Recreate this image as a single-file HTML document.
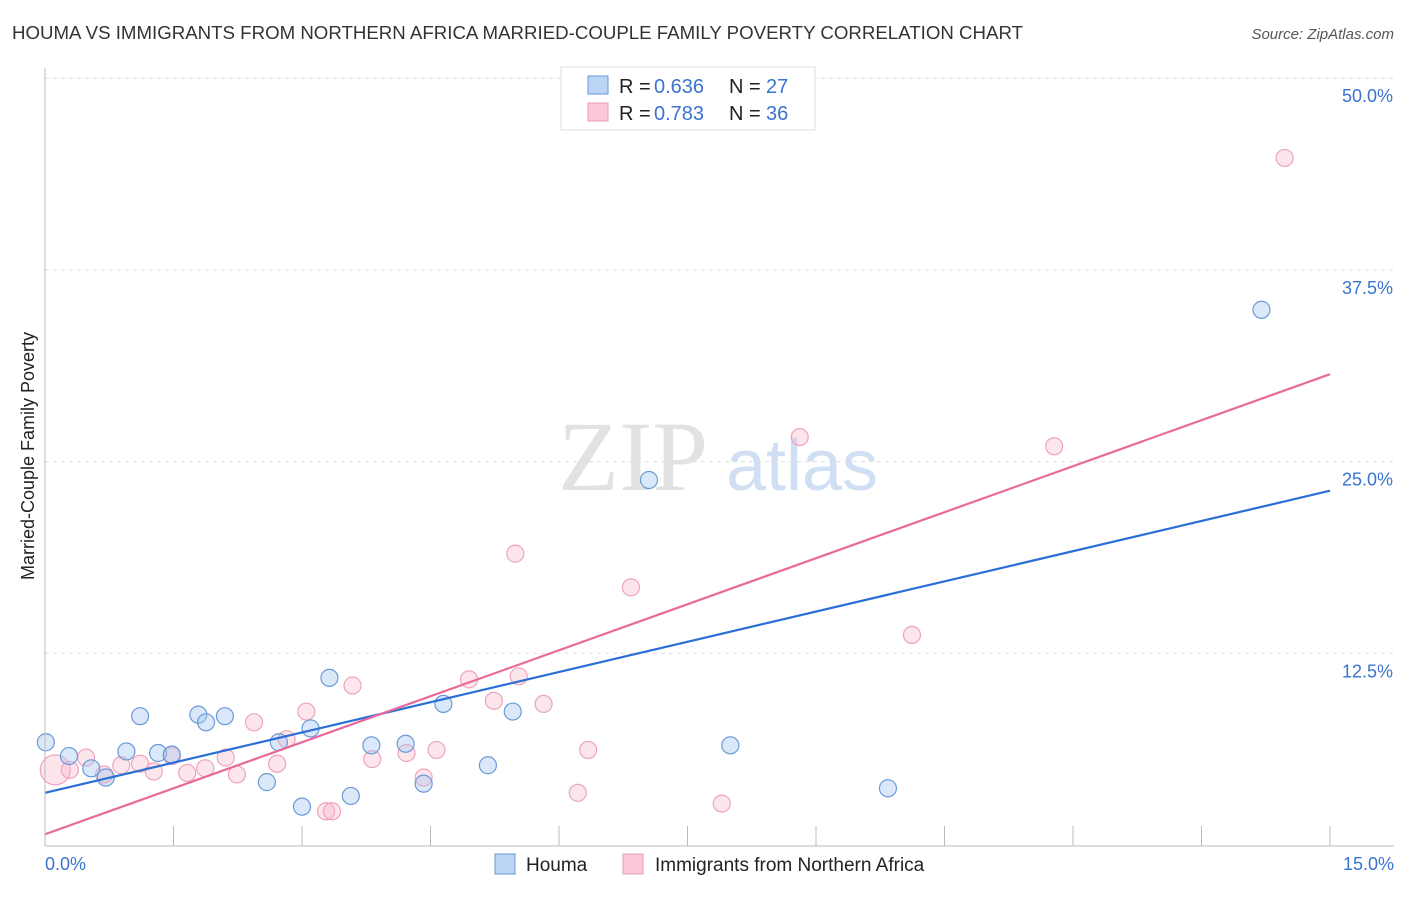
<!DOCTYPE html>
<html><head><meta charset="utf-8"><style>
body{margin:0;background:#fff;font-family:"Liberation Sans",sans-serif;}
</style></head><body>
<svg id="chart" width="1406" height="892" xmlns="http://www.w3.org/2000/svg">
<text x="12" y="39" font-size="18" fill="#333" textLength="1011" lengthAdjust="spacingAndGlyphs">HOUMA VS IMMIGRANTS FROM NORTHERN AFRICA MARRIED-COUPLE FAMILY POVERTY CORRELATION CHART</text>
<text x="1394" y="39" font-size="15" fill="#555" font-style="italic" text-anchor="end">Source: ZipAtlas.com</text>
<text x="633" y="490" font-size="100" fill="#e2e2e2" font-family="Liberation Serif,serif" text-anchor="middle">ZIP</text>
<text x="802" y="490" font-size="72" fill="#d0dff3" text-anchor="middle">atlas</text>
<text transform="translate(34,456) rotate(-90)" font-size="18" fill="#222" text-anchor="middle">Married-Couple Family Poverty</text>
<g id="grid"></g><g id="marks"></g><g id="lines"></g>
<line x1="45" y1="68" x2="45" y2="846" stroke="#bbb"/>
<line x1="45" y1="846" x2="1394" y2="846" stroke="#bbb"/>
<text x="45" y="870" font-size="18" fill="#3a74d0">0.0%</text>
<text x="1394" y="870" font-size="18" fill="#3a74d0" text-anchor="end">15.0%</text>
<g font-size="20">
<rect x="561" y="67" width="254" height="63" fill="#fff" stroke="#ddd"/>
<rect x="588" y="76" width="20" height="18" fill="#bcd4f5" stroke="#6a9ad8"/>
<rect x="588" y="103" width="20" height="18" fill="#fbc8d8" stroke="#e89ab4"/>
<text x="619" y="93" fill="#222">R =</text><text x="654" y="93" fill="#3a74d0">0.636</text>
<text x="729" y="93" fill="#222">N =</text><text x="766" y="93" fill="#3a74d0">27</text>
<text x="619" y="120" fill="#222">R =</text><text x="654" y="120" fill="#3a74d0">0.783</text>
<text x="729" y="120" fill="#222">N =</text><text x="766" y="120" fill="#3a74d0">36</text>
</g>
<g>
<rect x="495" y="854" width="20" height="20" fill="#bcd4f5" stroke="#6a9ad8"/>
<text x="526" y="871" font-size="19" fill="#222">Houma</text>
<rect x="623" y="854" width="20" height="20" fill="#fbc8d8" stroke="#e89ab4"/>
<text x="655" y="871" font-size="19" fill="#222">Immigrants from Northern Africa</text>
</g>
</svg>
<script>
const yTicks=[12.5,25,37.5,50];
const yTickLabels=["12.5%","25.0%","37.5%","50.0%"];
const houmaX=[0.01,0.28,0.54,0.71,0.95,1.11,1.32,1.48,1.79,1.88,2.10,2.59,2.73,3.0,3.10,3.32,3.57,3.81,4.21,4.42,4.65,5.17,5.46,7.05,8.0,9.84,14.2];
const houmaY=[6.7,5.8,5.0,4.4,6.1,8.4,6.0,5.9,8.5,8.0,8.4,4.1,6.7,2.5,7.6,10.9,3.2,6.5,6.6,4.0,9.2,5.2,8.7,23.8,6.5,3.7,34.9];
const immX=[0.12,0.29,0.48,0.69,0.89,1.11,1.27,1.48,1.66,1.87,2.11,2.24,2.44,2.71,2.82,3.05,3.28,3.35,3.59,3.82,4.22,4.42,4.57,4.95,5.24,5.49,5.53,5.82,6.22,6.34,6.84,7.90,8.81,10.12,11.78,14.47];
const immY=[4.9,4.9,5.7,4.6,5.2,5.3,4.8,5.8,4.7,5.0,5.7,4.6,8.0,5.3,6.9,8.7,2.2,2.2,10.4,5.6,6.0,4.4,6.2,10.8,9.4,19.0,11.0,9.2,3.4,6.2,16.8,2.7,26.6,13.7,26.0,44.8];
const houmaTrend=[3.4,23.1];
const immTrend=[0.7,30.7];
const NS="http://www.w3.org/2000/svg";
const sx=v=>45+v*1285/15;
const sy=v=>845-v*191.7/12.5;
function mk(tag,attrs,parent){const e=document.createElementNS(NS,tag);for(const k in attrs)e.setAttribute(k,attrs[k]);document.getElementById(parent).appendChild(e);return e;}
yTicks.forEach((t,i)=>{
  const l=mk('line',{x1:45,x2:1394,y1:sy(t),y2:sy(t),stroke:'#ddd','stroke-dasharray':'4,4'},'grid');
  
  
  const tx=mk('text',{x:1393,y:sy(t)+24,'font-size':18,fill:'#3a74d0','text-anchor':'end'},'grid');
  tx.textContent=yTickLabels[i];
  
  
});
for(let i=1;i<=10;i++){
  const l=mk('line',{x1:sx(i*1.5),x2:sx(i*1.5),y1:826,y2:846,stroke:'#bbb'},'grid');
  
  
}
immX.forEach((x,i)=>{
  const c=mk('circle',{cx:sx(x),cy:sy(immY[i]),r:i===0?15:8.5,fill:'rgba(248,180,200,0.35)',stroke:'#eda4bc','stroke-width':1.2},'marks');
  
  
});
houmaX.forEach((x,i)=>{
  const c=mk('circle',{cx:sx(x),cy:sy(houmaY[i]),r:8.5,fill:'rgba(165,198,240,0.4)',stroke:'#6a9ad8','stroke-width':1.2},'marks');
  
  
});
const l1=mk('line',{x1:sx(0),x2:sx(15),y1:sy(houmaTrend[0]),y2:sy(houmaTrend[1]),stroke:'#2a6fd6','stroke-width':2.2},'lines');


const l2=mk('line',{x1:sx(0),x2:sx(15),y1:sy(immTrend[0]),y2:sy(immTrend[1]),stroke:'#e8699a','stroke-width':2.2},'lines');


</script>
</body></html>
